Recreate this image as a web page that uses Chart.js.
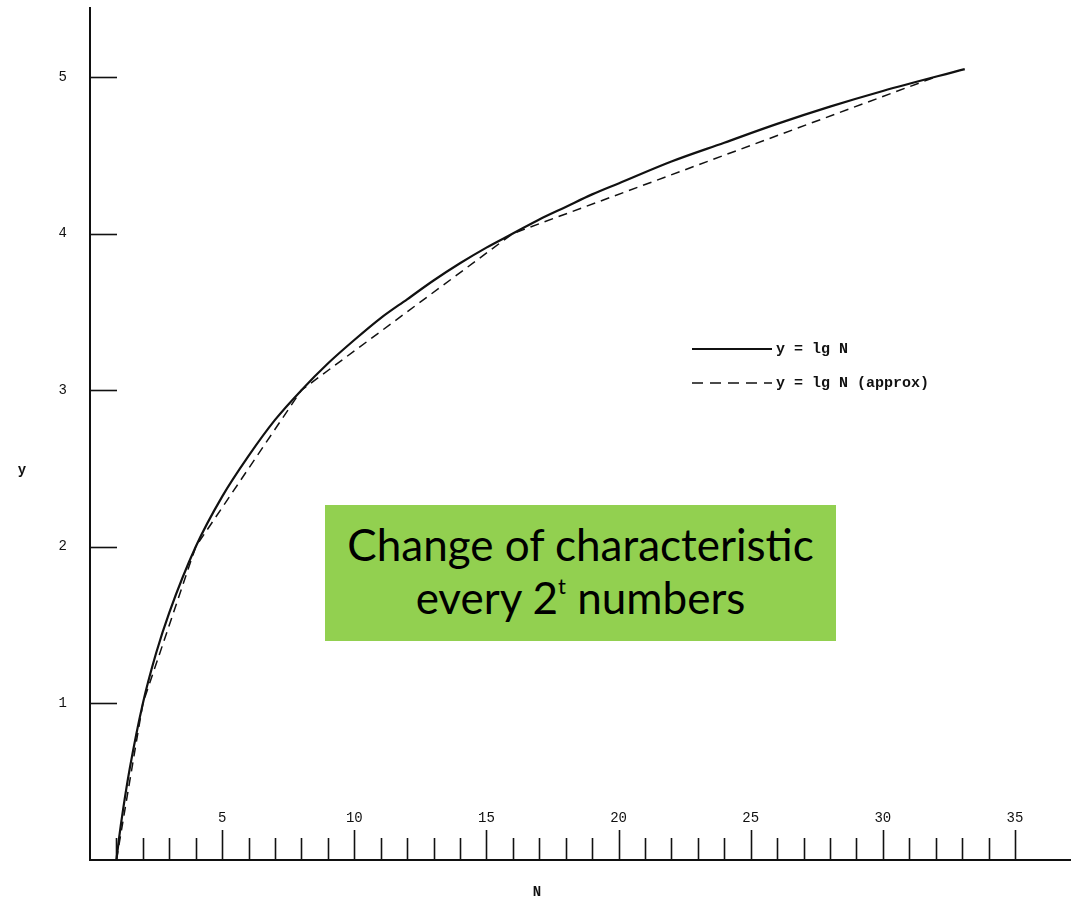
<!DOCTYPE html>
<html>
<head>
<meta charset="utf-8">
<title>y = lg N</title>
<script src="https://cdn.jsdelivr.net/npm/chart.js@4.4.1/dist/chart.umd.min.js"></script>
<style>
  html, body { margin: 0; padding: 0; background: #fff; }
  #wrap { position: relative; width: 1071px; height: 899px; }
  #note {
    position: absolute; left: 325px; top: 505px; width: 511px; height: 132px; padding-bottom: 4px;
    background: #92d050; color: #000;
    font-family: Lato, "Noto Sans", sans-serif; font-size: 44px; line-height: 53px;
    text-align: center; display: flex; flex-direction: column; justify-content: center;
  }
  #note sup { font-size: 0.5em; line-height: 0; vertical-align: 0.9em; }
</style>
</head>
<body>
<div id="wrap">
  <canvas id="lgChart" width="1071" height="899"></canvas>
  <div id="note"><div>Change of characteristic</div><div>every 2<sup>t</sup> numbers</div></div>
</div>
<script>
// solid curve
const lgN = [1, 1.1, 1.25, 1.5, 2, 2.5, 3, 4, 5, 6, 7, 8, 9, 10, 11, 12, 13, 14, 15, 16, 17, 18, 19, 20, 22, 24, 26, 28, 30, 33.1];
const lgY = [0, 0.14, 0.32, 0.58, 1, 1.32, 1.58, 2, 2.32, 2.58, 2.81, 3, 3.17, 3.32, 3.46, 3.58, 3.70, 3.81, 3.91, 4, 4.09, 4.17, 4.25, 4.32, 4.46, 4.58, 4.70, 4.81, 4.91, 5.05];

// dashed approximation (straight pieces between powers of 2)
const approxN = [1, 2, 4, 8, 16, 32];
const approxY = [0, 1, 2, 3, 4, 5];

// axis ticks
const xTicks = [1, 2, 3, 4, 5, 6, 7, 8, 9, 10, 11, 12, 13, 14, 15, 16, 17, 18, 19, 20, 21, 22, 23, 24, 25, 26, 27, 28, 29, 30, 31, 32, 33, 34, 35];
const xLabels = [5, 10, 15, 20, 25, 30, 35];
const yTicks = [1, 2, 3, 4, 5];

const legendItems = ['y = lg N', 'y = lg N (approx)'];

const INK = '#111';
const MONO = '"Liberation Mono", "DejaVu Sans Mono", monospace';

// no extra room for the end labels, so the axes run to the edges
const noPad = s => { s.paddingTop = 0; s.paddingBottom = 0; s.paddingLeft = 0; s.paddingRight = 0; };

// tick marks drawn inward (up from the N axis, right from the y axis)
const axisTicks = {
  id: 'axisTicks',
  afterDraw(chart) {
    const ctx = chart.ctx;
    const xs = chart.scales.x, ys = chart.scales.y;
    const base = ys.getPixelForValue(0);
    const left = xs.getPixelForValue(0);
    ctx.save();
    ctx.strokeStyle = INK;
    ctx.lineWidth = 1.6;
    ctx.fillStyle = INK;
    ctx.font = '14px ' + MONO;
    ctx.textAlign = 'center';
    ctx.textBaseline = 'middle';
    xTicks.forEach(v => {
      const px = Math.round(xs.getPixelForValue(v)) + 0.5;
      const major = xLabels.includes(v);
      ctx.beginPath();
      ctx.moveTo(px, base);
      ctx.lineTo(px, base - (major ? 30 : 22));
      ctx.stroke();
    });
    xLabels.forEach(v => {
      ctx.fillText(String(v), xs.getPixelForValue(v), base - 42);
    });
    yTicks.forEach(v => {
      const py = Math.round(ys.getPixelForValue(v)) + 0.5;
      ctx.beginPath();
      ctx.moveTo(left, py);
      ctx.lineTo(left + 27, py);
      ctx.stroke();
    });
    // axis names
    ctx.font = 'bold 14px ' + MONO;
    ctx.fillText('y', 22, 470);
    ctx.fillText('N', 537, 892);

    // legend
    ctx.font = 'bold 15px ' + MONO;
    ctx.textAlign = 'left';
    legendItems.forEach((t, i) => {
      const ly = 349 + i * 34;
      ctx.beginPath();
      ctx.lineWidth = i === 0 ? 2 : 1.6;
      ctx.setLineDash(i === 0 ? [] : [11, 7]);
      ctx.moveTo(692, ly);
      ctx.lineTo(772, ly);
      ctx.stroke();
      ctx.setLineDash([]);
      ctx.fillText(t, 776, ly);
    });
    ctx.restore();
  }
};

new Chart(document.getElementById('lgChart'), {
  type: 'line',
  data: {
    datasets: [
      {
        label: legendItems[0],
        data: lgN.map((n, i) => ({ x: n, y: lgY[i] })),
        borderColor: INK, borderWidth: 2.2, pointRadius: 0,
        cubicInterpolationMode: 'monotone'
      },
      {
        label: legendItems[1],
        data: approxN.map((n, i) => ({ x: n, y: approxY[i] })),
        borderColor: INK, borderWidth: 1.5, borderDash: [9, 6], pointRadius: 0,
        tension: 0
      }
    ]
  },
  options: {
    responsive: false,
    animation: false,
    events: [],
    layout: { padding: { top: 8, right: 0, left: 0, bottom: 0 } },
    plugins: { legend: { display: false }, tooltip: { enabled: false } },
    scales: {
      x: {
        type: 'linear', min: 0, max: 37.12,
        grid: { display: false, drawTicks: false },
        ticks: { display: false },
        border: { display: true, color: INK, width: 2 },
        afterFit: s => { s.height = 39; noPad(s); }
      },
      y: {
        type: 'linear', min: 0, max: 5.44,
        grid: { display: false, drawTicks: false },
        ticks: {
          stepSize: 1, padding: 23, color: INK,
          font: { family: MONO, size: 14 },
          callback: v => (yTicks.includes(v) ? String(v) : '')
        },
        border: { display: true, color: INK, width: 2 },
        afterFit: s => { s.width = 90; noPad(s); }
      }
    }
  },
  plugins: [axisTicks]
});
</script>
</body>
</html>
